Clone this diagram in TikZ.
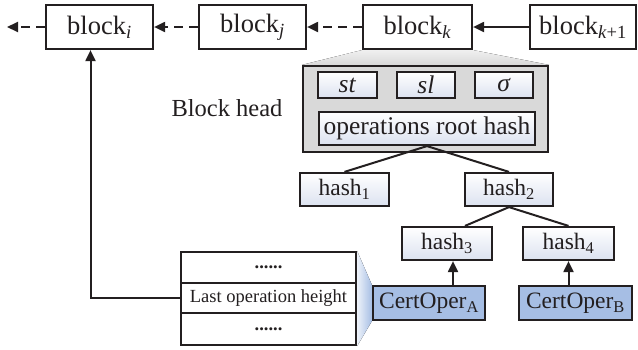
\documentclass[tikz,border=0pt]{standalone}
\usepackage{fontspec}
\setmainfont{Liberation Serif}
\usetikzlibrary{arrows.meta,backgrounds}
\definecolor{lc}{HTML}{231F20}
\definecolor{headgray}{HTML}{D9D9D9}
\definecolor{hashbot}{HTML}{DCE2F0}
\definecolor{certblue}{HTML}{A6BEE4}
\newcommand{\blkf}{\fontsize{26.5}{28}\selectfont}
\newcommand{\opsf}{\fontsize{25.5}{28}\selectfont}
\newcommand{\hshf}{\fontsize{23.5}{26}\selectfont}
\newcommand{\smallf}{\fontsize{18.5}{20}\selectfont}
\tikzset{
  box/.style={draw=lc, line width=2.2pt, fill=white, inner sep=0pt, text=lc, font=\blkf},
  hbox/.style={box, top color=white, bottom color=hashbot, font=\hshf},
  cbox/.style={box, fill=certblue, font=\hshf},
  tbox/.style={box, font=\smallf},
  arr/.style={-{Triangle[length=11pt,width=10pt]}, line width=2pt, draw=lc},
  dsh/.style={arr, dash pattern=on 9pt off 6pt},
  ln/.style={line width=2pt, draw=lc},
}
\begin{document}
\begin{tikzpicture}[x=1pt,y=-1pt]
\useasboundingbox (0,0) rectangle (638,349);
% chain of blocks
\node[box, minimum width=107pt, minimum height=44pt] (bi) at (99.5,27) {block\textsubscript{\textit{i}}};
\node[box, minimum width=107pt, minimum height=44pt] (bj) at (252.5,27) {block\textsubscript{\textit{j}}};
\node[box, minimum width=109pt, minimum height=44pt] (bk) at (417.5,27) {block\textsubscript{\textit{k}}};
\node[box, minimum width=106pt, minimum height=44pt] (bk1) at (583,27) {block\textsubscript{\textit{k}+1}};
\coordinate (lend) at (7,27);
% block head
\node[draw=lc, line width=2.2pt, fill=headgray, minimum width=245pt, minimum height=86pt, inner sep=0pt] (head) at (425.5,109) {};
\node[hbox, font=\opsf, minimum width=59pt, minimum height=26pt] (st) at (347.5,85) {\textit{st}};
\node[hbox, font=\opsf, minimum width=58pt, minimum height=26pt] (sl) at (426,85) {\textit{sl}};
\node[hbox, font=\opsf, minimum width=58pt, minimum height=26pt] (sg) at (504,85) {\textit{σ}};
\node[hbox, font=\opsf, minimum width=216pt, minimum height=33pt] (ops) at (427,128.5) {operations root hash};
\node[text=lc, font=\fontsize{24.5}{27}\selectfont] (bhl) at (227,108) {Block head};
% hash tree
\node[hbox, minimum width=89pt, minimum height=33pt] (h1) at (344.5,189.5) {hash\textsubscript{1}};
\node[hbox, minimum width=88pt, minimum height=33pt] (h2) at (509,189.5) {hash\textsubscript{2}};
\node[hbox, minimum width=90pt, minimum height=33pt] (h3) at (447,243.5) {hash\textsubscript{3}};
\node[hbox, minimum width=91pt, minimum height=33pt] (h4) at (568.5,243.5) {hash\textsubscript{4}};
\node[cbox, minimum width=112pt, minimum height=34pt] (ca) at (429,303) {CertOper\textsubscript{A}};
\node[cbox, minimum width=113pt, minimum height=34pt] (cb) at (575.5,303) {CertOper\textsubscript{B}};
% table
\node[tbox, minimum width=175pt, minimum height=31pt] (tt) at (268.5,267.5) {\textbf{......}};
\node[tbox, minimum width=175pt, minimum height=30pt] (tm) at (268.5,298) {Last operation height};
\node[tbox, minimum width=175pt, minimum height=32pt] (tb) at (268.5,329) {\textbf{......}};
% funnels
\begin{scope}[on background layer]
\fill[top color=headgray!40, bottom color=headgray] (bk.south west) -- (bk.south east) -- (head.north east) -- (head.north west) -- cycle;
\fill[left color=certblue!20, right color=certblue] (tt.north east) -- (ca.north west) -- (ca.south west) -- (tb.south east) -- cycle;
\end{scope}
% connectors
\draw[dsh] (bi.west) -- (lend);
\draw[dsh] (bj.west) -- (bi.east);
\draw[dsh] (bk.west) -- (bj.east);
\draw[arr] (bk1.west) -- (bk.east);
\draw[arr] (tm.west) -| ([xshift=-9pt]bi.south);
\draw[ln] (ops.south) -- (h1.north);
\draw[ln] (ops.south) -- (h2.north);
\draw[ln] (h2.south) -- ([xshift=18pt]h3.north);
\draw[ln] (h2.south) -- (h4.north);
\draw[arr] ([xshift=6pt]h3.south |- ca.north) -- ([xshift=6pt]h3.south);
\draw[arr] (h4.south |- cb.north) -- (h4.south);
\end{tikzpicture}
\end{document}
